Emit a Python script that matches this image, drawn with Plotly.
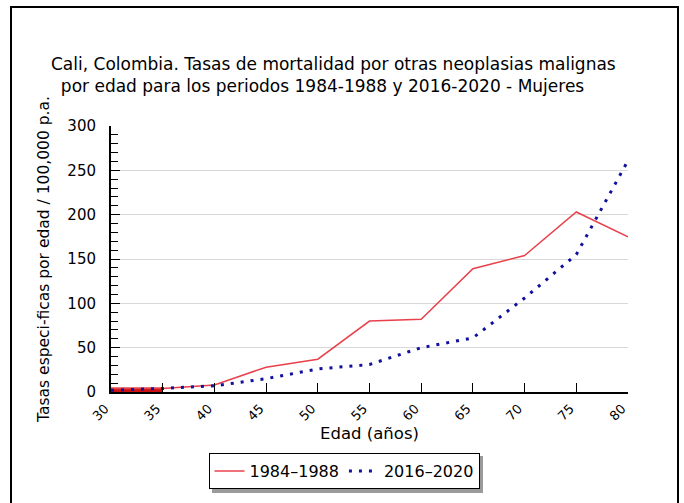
import plotly.graph_objects as go

edades = [30, 35, 40, 45, 50, 55, 60, 65, 70, 75, 80]
tasas_1984_1988 = [4, 4, 8, 28, 37, 80, 82, 139, 154, 203, 175]
tasas_2016_2020 = [2, 4, 7, 15, 26, 31, 50, 61, 106, 155, 261]
serie_1 = "1984\u20131988"
serie_2 = "2016\u20132020"
titulo = ("Cali, Colombia. Tasas de mortalidad por otras neoplasias malignas<br>"
          "por edad para los periodos 1984-1988 y 2016-2020 - Mujeres&nbsp;&nbsp;&nbsp;&nbsp;")
titulo_y = "Tasas especi-ficas por edad / 100,000 p.a."
titulo_x = "Edad (años)"
y_ticks = [0, 50, 100, 150, 200, 250, 300]

FONT = "DejaVu Sans"

fig = go.Figure()
fig.add_trace(go.Scatter(
    x=edades[:2], y=tasas_1984_1988[:2], mode="lines", fill="tozeroy",
    fillcolor="#cc1111", line=dict(color="#cc1111", width=2),
    showlegend=False, hoverinfo="skip"))
fig.add_trace(go.Scatter(
    x=edades, y=tasas_1984_1988, mode="lines", name=serie_1,
    line=dict(color="#e8414b", width=1.5)))
fig.add_trace(go.Scatter(
    x=edades, y=tasas_2016_2020, mode="lines", name=serie_2,
    line=dict(color="#10109c", width=3, dash="3px,7px")))

L, R, T, B = 111, 56, 126, 111
W, H = 684, 503
pw, ph = W - L - R, H - T - B

def px(x):
    return (x - L) / pw

def py(y):
    return (H - B - y) / ph

fig.update_layout(
    width=W, height=H,
    margin=dict(l=L, r=R, t=T, b=B, autoexpand=False),
    paper_bgcolor="white", plot_bgcolor="white",
    font=dict(family=FONT, color="black", size=14),
    xaxis=dict(range=[30, 80], tickmode="array", tickvals=edades,
               ticks="inside", ticklen=9, tickcolor="black",
               showline=True, linecolor="black", linewidth=2,
               showgrid=False, zeroline=False, tickangle=-45,
               ticklabelshift=-6, ticklabelstandoff=2,
               tickfont=dict(size=13),
               title=dict(text=titulo_x, font=dict(size=16.5), standoff=4)),
    yaxis=dict(range=[0, 300], tickmode="array", tickvals=y_ticks,
               ticks="inside", ticklen=9, tickcolor="black",
               minor=dict(dtick=10, ticks="inside", ticklen=7, tickcolor="black", showgrid=False),
               showline=True, linecolor="black", linewidth=2,
               showgrid=True, gridcolor="#d8d8d8", gridwidth=1,
               zeroline=False, tickfont=dict(size=15),
               ticklabelstandoff=10,
               title=dict(text=titulo_y, font=dict(size=15.5), standoff=14)),
    legend=dict(orientation="h", x=px(344), xanchor="center", y=py(453), yanchor="top",
                bordercolor="black", borderwidth=1, bgcolor="white",
                font=dict(size=16), itemwidth=30),
    showlegend=True,
)

fig.add_annotation(text=titulo, xref="paper", yref="paper", x=px(333), y=py(75),
                   xanchor="center", yanchor="middle", showarrow=False,
                   font=dict(size=17, family=FONT))

# outer frame and legend shadow
fig.add_shape(type="rect", xref="paper", yref="paper",
              x0=px(11), x1=px(678), y0=py(520), y1=py(7),
              line=dict(color="black", width=2), fillcolor="rgba(0,0,0,0)", layer="below")
fig.add_shape(type="rect", xref="paper", yref="paper",
              x0=px(212), x1=px(483), y0=py(493), y1=py(456),
              line=dict(width=0), fillcolor="#9a9a9a", layer="above")

fig.write_html("out.html", config={"displayModeBar": False},
               post_script="document.body.style.margin='0';document.body.style.overflow='hidden';")
